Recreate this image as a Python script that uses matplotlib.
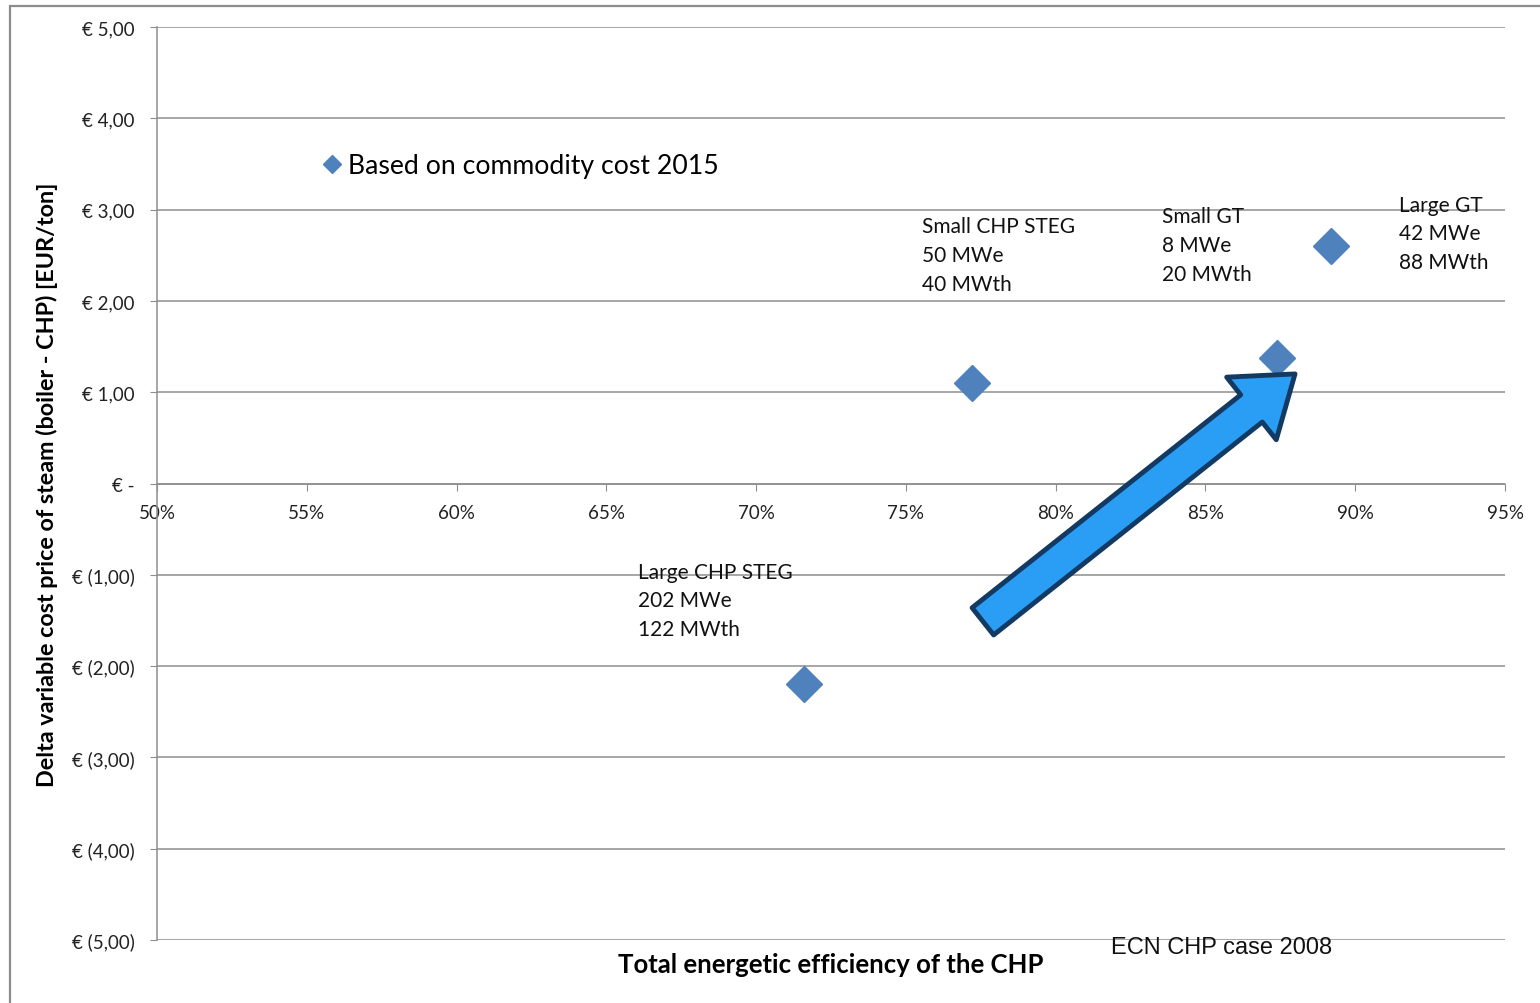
import matplotlib.pyplot as plt
import matplotlib.ticker as mticker
from matplotlib.patches import FancyArrowPatch, Rectangle

# data
names = ['Large CHP STEG\n202 MWe\n122 MWth',
         'Small CHP STEG\n50 MWe\n40 MWth',
         'Small GT\n8 MWe\n20 MWth',
         'Large GT\n42 MWe\n88 MWth']
efficiency = [71.6, 77.2, 87.4, 89.2]          # %
delta_cost = [-2.20, 1.10, 1.37, 2.60]          # EUR/ton
series_name = 'Based on commodity cost 2015'

y_ticks = [5, 4, 3, 2, 1, 0, -1, -2, -3, -4, -5]
y_tick_labels = ['€ 5,00', '€ 4,00', '€ 3,00', '€ 2,00', '€ 1,00', '€ -',
                 '€ (1,00)', '€ (2,00)', '€ (3,00)', '€ (4,00)', '€ (5,00)']
x_ticks = [50, 55, 60, 65, 70, 75, 80, 85, 90, 95]

# label offsets (text left / middle line) relative to each point
label_dx = [-5.55, -1.65, -3.85, 2.25]
label_dy = [0.92, 1.40, 1.24, 0.14]

plt.rcParams['font.family'] = ['Lato', 'DejaVu Sans']

fig = plt.figure(figsize=(15.4, 10.04), dpi=100)
ax = fig.add_axes([157/1540, 63/1004, 1348/1540, 913/1004])

# outer border (left / top edges visible)
fig.patches.append(Rectangle((10/1540, -0.05), 1.2, 0.05 + 997/1004, transform=fig.transFigure,
                             fill=False, edgecolor='#8c8c8c', linewidth=1.6, zorder=0))

ax.set_xlim(50, 95)
ax.set_ylim(-5, 5)
ax.yaxis.grid(True, color='#8e8e8e', linewidth=1.1)
ax.set_axisbelow(True)

for s in ['top', 'right']:
    ax.spines[s].set_visible(False)
ax.spines['bottom'].set_position(('data', 0))
ax.spines['bottom'].set_color('#8e8e8e')
ax.spines['left'].set_color('#8e8e8e')
ax.spines['bottom'].set_linewidth(1.1)
ax.spines['left'].set_linewidth(1.1)

ax.set_yticks(y_ticks)
ax.set_yticklabels(y_tick_labels)
ax.set_xticks(x_ticks)
ax.xaxis.set_major_formatter(mticker.FuncFormatter(lambda v, p: '%d%%' % v))
ax.tick_params(axis='y', length=5, color='#8e8e8e', pad=11, labelsize=13.5, labelcolor='#222222')
ax.tick_params(axis='x', length=5, color='#8e8e8e', pad=10, labelsize=13.5, labelcolor='#222222')

ax.plot(efficiency, delta_cost, linestyle='none', marker='D', markersize=18,
        color='#4f81bd', label=series_name, zorder=3)

for n, x, y, dx, dy in zip(names, efficiency, delta_cost, label_dx, label_dy):
    ax.text(x + dx, y + dy, n, fontsize=15, ha='left', va='center', linespacing=1.55, color='#111111')

ax.legend(loc='center left', bbox_to_anchor=(0.106, 0.848), frameon=False, markerscale=0.5,
          handlelength=0.6, handletextpad=0.3, fontsize=19.2)

# big arrow
arr = FancyArrowPatch((77.57, -1.51), (87.99, 1.20),
                      arrowstyle='simple,head_length=0.8,head_width=1.15,tail_width=0.5',
                      mutation_scale=50, facecolor='#2a9df4', edgecolor='#123a63',
                      linewidth=3.5, shrinkA=0, shrinkB=0, zorder=4)
ax.add_patch(arr)

ax.text(-0.0816, 0.4995, 'Delta variable cost price of steam (boiler - CHP) [EUR/ton]',
        transform=ax.transAxes, rotation=90, ha='center', va='center',
        fontsize=16.8, fontweight='bold')
ax.text(0.5, -0.026, 'Total energetic efficiency of the CHP', transform=ax.transAxes,
        ha='center', va='center', fontsize=18.5, fontweight='bold')
ax.text(0.790, -0.0077, 'ECN CHP case 2008', transform=ax.transAxes, ha='center', va='center',
        fontsize=17, family=['Liberation Sans', 'DejaVu Sans'], color='#111111')

fig.savefig('out.png', dpi=100)
